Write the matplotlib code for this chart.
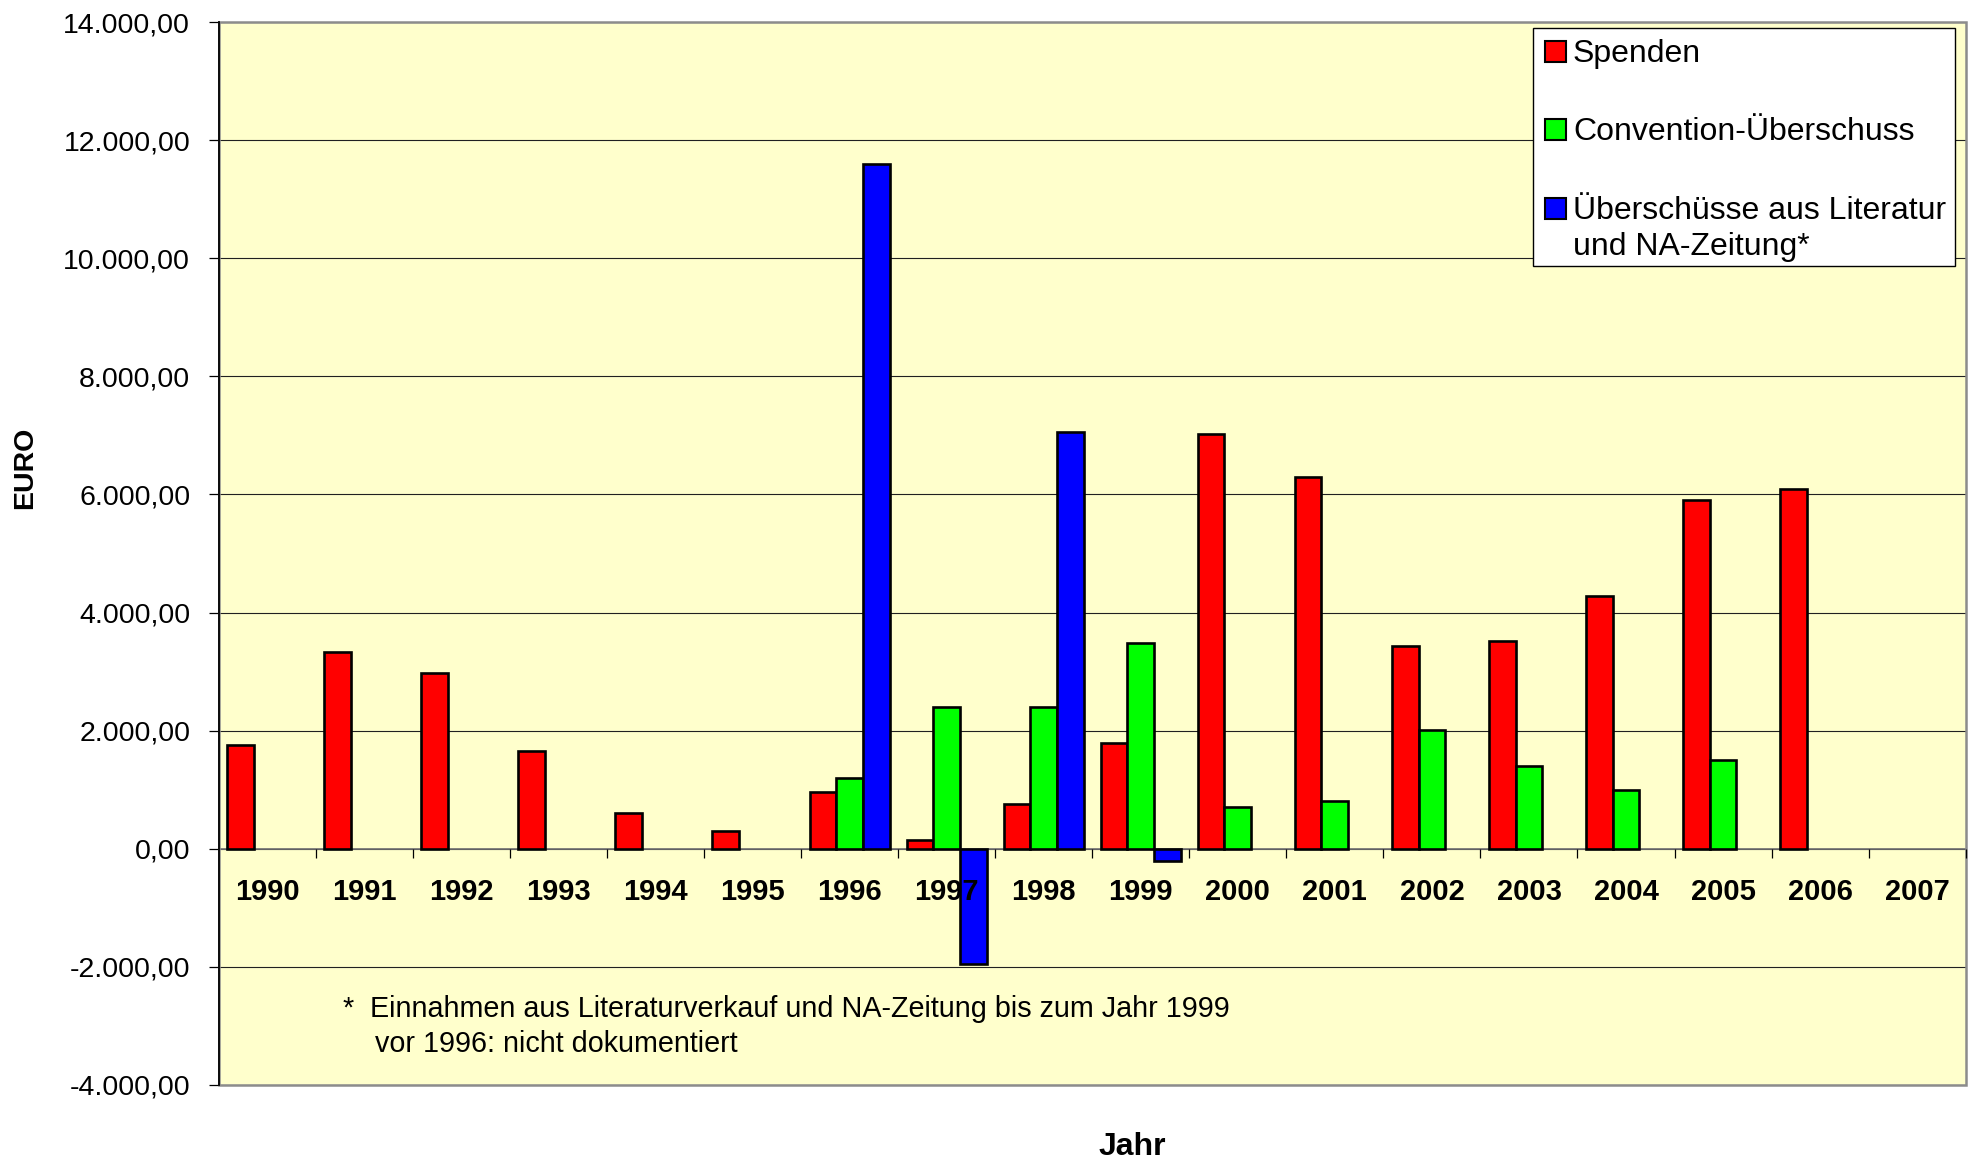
import matplotlib
matplotlib.use('Agg')
import matplotlib.pyplot as plt
from matplotlib.patches import Rectangle
from matplotlib.ticker import FixedLocator, FuncFormatter
import numpy as np

# ===== DATA =====
years = ['1990', '1991', '1992', '1993', '1994', '1995', '1996', '1997', '1998',
         '1999', '2000', '2001', '2002', '2003', '2004', '2005', '2006', '2007']
nan = np.nan
spenden = [1750, 3330, 2975, 1650, 600, 300, 965, 150, 760,
           1790, 7020, 6300, 3440, 3510, 4280, 5900, 6085, nan]
convention = [nan, nan, nan, nan, nan, nan, 1200, 2400, 2400,
              3480, 715, 815, 2010, 1410, 995, 1495, nan, nan]
literatur = [nan, nan, nan, nan, nan, nan, 11600, -1955, 7060,
             -210, nan, nan, nan, nan, nan, nan, nan, nan]
series_labels = ['Spenden', 'Convention-Überschuss',
                 'Überschüsse aus Literatur\nund NA-Zeitung*']
series_colors = ['#ff0000', '#00ff00', '#0000ff']
footnote_1 = 'Einnahmen aus Literaturverkauf und NA-Zeitung bis zum Jahr 1999'
footnote_2 = 'vor 1996: nicht dokumentiert'

plt.rcParams['font.family'] = ['Liberation Sans', 'DejaVu Sans']

W, H = 1972, 1165
fig = plt.figure(figsize=(W / 100, H / 100), dpi=100)

def fx(px):
    return px / W

def fy(py):
    return 1 - py / H

left, right, top, bottom = 218.7, 1965.7, 22, 1085
ax = fig.add_axes([fx(left), fy(bottom), fx(right - left), (bottom - top) / H])
ax.set_facecolor('#ffffcc')

x = np.arange(len(years))
bw = 0.275
for k, (vals, col) in enumerate(zip([spenden, convention, literatur], series_colors)):
    ax.bar(x + (k - 1) * bw, vals, width=bw, color=col, edgecolor='black',
           linewidth=1.9, zorder=3)

ax.set_xlim(-0.5, len(years) - 0.5)
ax.set_ylim(-4000, 14000)

# y axis
ax.yaxis.set_major_locator(FixedLocator(np.arange(-4000, 14001, 2000)))
ax.yaxis.set_major_formatter(FuncFormatter(
    lambda v, p: f'{v:,.2f}'.replace(',', 'X').replace('.', ',').replace('X', '.')))
ax.tick_params(axis='y', direction='out', length=7, width=0.9, pad=13.5,
               labelsize=20.5, colors='black')
ax.yaxis.grid(True, color='#202020', linewidth=0.8)
ax.set_axisbelow(True)

# x axis at zero, ticks between categories; labels drawn above the bars
ax.spines['bottom'].set_position(('data', 0))
ax.spines['bottom'].set_color('#707070')
ax.spines['bottom'].set_linewidth(1.2)
ax.xaxis.set_major_locator(FixedLocator(np.arange(0.5, len(years), 1.0)))
ax.xaxis.set_major_formatter(FuncFormatter(lambda v, p: ''))
ax.xaxis.set_minor_locator(FixedLocator(x))
ax.xaxis.set_minor_formatter(FuncFormatter(lambda v, p: years[int(round(v))]))
ax.tick_params(axis='x', which='major', direction='out', length=6.5, width=0.9,
               color='black')
ax.tick_params(axis='x', which='minor', length=0, pad=21, labelsize=21)
for lab in ax.xaxis.get_minorticklabels():
    lab.set_fontweight('bold')
ax.xaxis.set_zorder(4)

for side in ['top', 'right']:
    ax.spines[side].set_visible(False)
ax.spines['left'].set_color('black')
ax.spines['left'].set_linewidth(1.3)
ax.spines['left'].set_zorder(5)
ax.add_patch(Rectangle((0, 0), 1, 1, transform=ax.transAxes, fill=False,
                       edgecolor='#8c8c8c', linewidth=1.8, zorder=4, clip_on=False))

# footnote
fig.text(fx(343), fy(1016.7), '*', fontsize=20.7, va='baseline')
fig.text(fx(370), fy(1016.7), footnote_1, fontsize=20.7, va='baseline')
fig.text(fx(375), fy(1051.7), footnote_2, fontsize=20.7, va='baseline')

# axis titles
fig.text(fx(25), fy(468), 'EURO', fontsize=20.5, fontweight='bold', rotation=90,
         ha='center', va='center')
fig.text(fx(1132), fy(1147), 'Jahr', fontsize=23, fontweight='bold',
         ha='center', va='center')

# legend box
fig.patches.append(Rectangle((fx(1533), fy(266)), fx(1955 - 1533), (266 - 28) / H,
                             transform=fig.transFigure, facecolor='white',
                             edgecolor='black', linewidth=1.0, zorder=6))
marker_tops = [41, 119, 198]
baselines = [61.7, 140, 219]
for lab, col, mt, bl in zip(series_labels, series_colors, marker_tops, baselines):
    fig.patches.append(Rectangle((fx(1545), fy(mt + 21)), fx(21), 21 / H,
                                 transform=fig.transFigure, facecolor=col,
                                 edgecolor='black', linewidth=1.5, zorder=7))
    lines = lab.split('\n')
    for i, line in enumerate(lines):
        fig.text(fx(1573), fy(bl + i * 36), line, fontsize=23, va='baseline',
                 zorder=8)

fig.savefig('out.png', dpi=100, facecolor='white')
